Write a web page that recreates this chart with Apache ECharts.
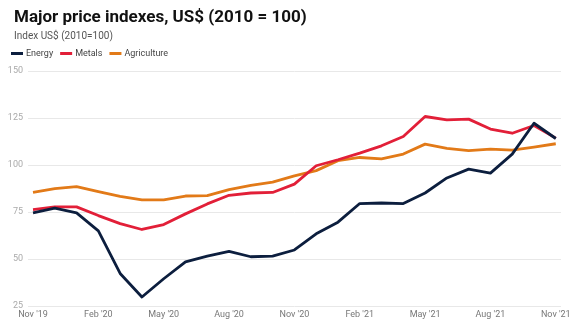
<!DOCTYPE html>
<html>
<head>
<meta charset="utf-8">
<script src="https://cdn.jsdelivr.net/npm/echarts@6/dist/echarts.min.js"></script>
<style>
html,body{margin:0;padding:0;background:#fff;}
#chart{width:578px;height:326px;}
</style>
</head>
<body>
<div id="chart"></div>
<script>
const months = ["Nov '19","Dec '19","Jan '20","Feb '20","Mar '20","Apr '20","May '20","Jun '20","Jul '20","Aug '20","Sep '20","Oct '20","Nov '20","Dec '20","Jan '21","Feb '21","Mar '21","Apr '21","May '21","Jun '21","Jul '21","Aug '21","Sep '21","Oct '21","Nov '21"];
const tickLabels = ["Nov '19","Feb '20","May '20","Aug '20","Nov '20","Feb '21","May '21","Aug '21","Nov '21"];
const yTicks = [25, 50, 75, 100, 125, 150];
const energy = [74.5,77,74.5,65,42.3,29.8,39.5,48.5,51.5,54,51.2,51.5,54.8,63.4,69.6,79.5,79.8,79.5,85.1,93.1,97.8,95.7,105.8,122.2,114.1];
const metals = [76.3,77.7,77.7,73.1,68.8,65.7,68.3,74,79.3,83.9,85.1,85.4,89.8,99.6,102.8,106.3,110.2,115.2,125.8,124,124.4,119.1,116.9,121,114.3];
const agriculture = [85.4,87.4,88.5,85.8,83.3,81.4,81.4,83.5,83.7,86.9,89.2,90.9,94.2,97,102.3,104,103.3,105.8,111.1,108.8,107.7,108.4,107.9,109.5,111.3];

const seriesNames = ["Energy","Metals","Agriculture"];
const seriesData = [energy, metals, agriculture];
const colors = ["#0c1e3e","#e21f38","#e27a18"];

const chart = echarts.init(document.getElementById('chart'), null, {renderer:'canvas'});
const tickIdx = tickLabels.map(l => months.indexOf(l));

chart.setOption({
  animation: false,
  backgroundColor: '#fff',
  title: [
    {text: 'Major price indexes, US$ (2010 = 100)', left: 9, top: 4,
     textStyle: {fontFamily: 'Roboto', fontWeight: 'bold', fontSize: 17, color: '#111'}},
    {text: 'Index US$ (2010=100)', left: 9, top: 26,
     textStyle: {fontFamily: 'Roboto', fontWeight: 'normal', fontSize: 10, color: '#555'}}
  ],
  legend: {
    left: 6, top: 44,
    itemWidth: 12, itemHeight: 3, itemGap: 7,
    icon: 'rect',
    textStyle: {fontFamily: 'Roboto', fontSize: 9, color: '#444', padding: [0,0,0,-2]},
    data: seriesNames
  },
  grid: {left: 28, right: 17, top: 71, bottom: 20, containLabel: false},
  xAxis: {
    type: 'value', min: -0.23, max: 24.24,
    axisLine: {show: false}, axisTick: {show: false}, splitLine: {show: false},
    axisLabel: {
      customValues: tickIdx,
      formatter: v => months[Math.round(v)] || '',
      fontFamily: 'Roboto', fontSize: 9, color: '#777', margin: 4
    }
  },
  yAxis: {
    type: 'value', min: 25, max: 150, interval: 25,
    axisLine: {show: false}, axisTick: {show: false},
    splitLine: {lineStyle: {color: '#e8e8e8', width: 1}},
    axisLabel: {fontFamily: 'Roboto', fontSize: 9, color: '#aaa', margin: 5,
      formatter: v => yTicks.includes(v) ? String(v) : ''}
  },
  series: seriesNames.map((n, k) => ({
    name: n, type: 'line', showSymbol: false, symbol: 'none',
    data: seriesData[k].map((v, i) => [i, v]),
    lineStyle: {color: colors[k], width: 2.8, join: 'round'},
    itemStyle: {color: colors[k]},
    z: 3 - k
  }))
});
</script>
</body>
</html>
